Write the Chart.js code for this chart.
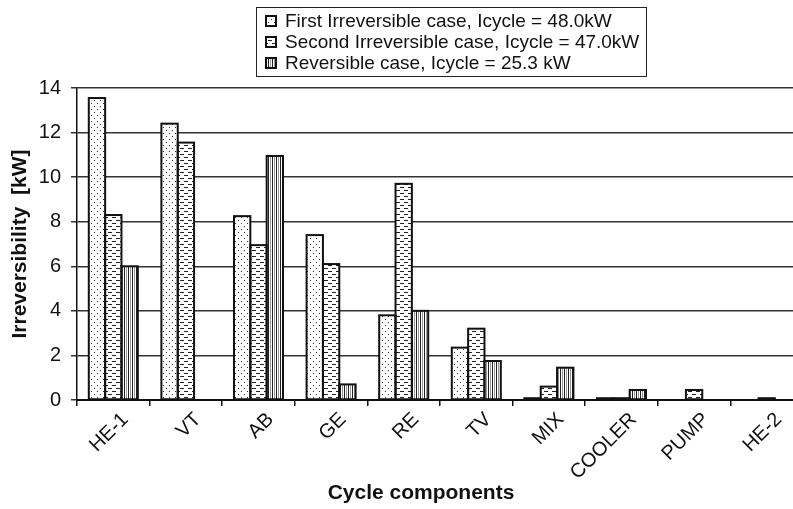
<!DOCTYPE html>
<html>
<head>
<meta charset="utf-8">
<script src="https://cdn.jsdelivr.net/npm/chart.js@4.4.1/dist/chart.umd.min.js"></script>
<style>
  html, body { margin: 0; padding: 0; background: #fff; width: 793px; height: 509px; overflow: hidden; }
  #wrap { position: absolute; left: 0; top: 0; width: 830px; height: 509px; }
</style>
</head>
<body>
<div id="wrap"><canvas id="c" width="830" height="509"></canvas></div>
<script>
// ---- data ----
const categories = ["HE-1", "VT", "AB", "GE", "RE", "TV", "MIX", "COOLER", "PUMP", "HE-2"];
const firstIrreversible  = [13.55, 12.4, 8.25, 7.4, 3.8, 2.35, 0.08, 0.08, 0, 0];
const secondIrreversible = [8.3, 11.55, 6.95, 6.1, 9.7, 3.2, 0.6, 0.08, 0.45, 0.08];
const reversibleCase     = [6.0, 0, 10.95, 0.7, 4.0, 1.75, 1.45, 0.45, 0, 0];
const seriesLabels = [
  "First Irreversible case, Icycle = 48.0kW",
  "Second Irreversible case, Icycle = 47.0kW",
  "Reversible case, Icycle = 25.3 kW"
];
const yTicks = [0, 2, 4, 6, 8, 10, 12, 14];
const yTitle = "Irreversibility  [kW]";
const xTitle = "Cycle components";

// ---- patterns ----
function makePattern(w, h, draw) {
  const c = document.createElement('canvas');
  c.width = w; c.height = h;
  const g = c.getContext('2d');
  g.fillStyle = '#fff'; g.fillRect(0, 0, w, h);
  draw(g);
  return document.getElementById('c').getContext('2d').createPattern(c, 'repeat');
}
const patDots = makePattern(6, 6, g => {
  g.fillStyle = '#333';
  g.fillRect(1, 1, 1, 1);
  g.fillRect(4, 4, 1, 1);
});
const patDash = makePattern(8, 6, g => {
  g.fillStyle = '#222';
  g.fillRect(0, 1, 4, 1);
  g.fillRect(4, 4, 4, 1);
});
const patVert = makePattern(4, 2, g => {
  g.fillStyle = '#222';
  g.fillRect(0, 0, 1, 2);
  g.fillStyle = '#999';
  g.fillRect(2, 0, 1, 2);
});
const patterns = [patDots, patDash, patVert];

const FONT = "'Liberation Sans', Arial, Helvetica, sans-serif";

// Excel-like bar outlines: stroke centred on the bar edges
const barOutline = {
  id: 'barOutline',
  afterDatasetsDraw(chart) {
    const ctx = chart.ctx;
    ctx.save();
    ctx.strokeStyle = '#111';
    ctx.lineWidth = 2;
    chart.data.datasets.forEach((ds, di) => {
      const meta = chart.getDatasetMeta(di);
      meta.data.forEach((el, i) => {
        if (!ds.data[i]) return;
        const p = el.getProps(['x', 'y', 'base', 'width'], true);
        const l = p.x - p.width / 2;
        ctx.strokeRect(l, p.y, p.width, p.base - p.y);
      });
    });
    ctx.restore();
  }
};

const overlay = {
  id: 'overlay',
  afterDraw(chart) {
    const ctx = chart.ctx;
    ctx.save();
    // legend
    const lx = 256, ly = 7, lw = 390, lh = 69;
    ctx.fillStyle = '#fff';
    ctx.fillRect(lx, ly, lw, lh);
    ctx.strokeStyle = '#222';
    ctx.lineWidth = 1;
    ctx.strokeRect(lx + 0.5, ly + 0.5, lw, lh);
    ctx.font = "19px " + FONT;
    ctx.textBaseline = 'middle';
    ctx.textAlign = 'left';
    for (let i = 0; i < seriesLabels.length; i++) {
      const cy = ly + 14 + i * 21;
      ctx.fillStyle = patterns[i];
      ctx.fillRect(266, cy - 5, 10, 10);
      ctx.strokeStyle = '#111';
      ctx.lineWidth = 2;
      ctx.strokeRect(266, cy - 5, 10, 10);
      ctx.fillStyle = '#111';
      ctx.fillText(seriesLabels[i], 285, cy + 1);
    }
    // axis titles
    ctx.font = "bold 21px " + FONT;
    ctx.fillStyle = '#111';
    ctx.textAlign = 'center';
    ctx.fillText(xTitle, 421, 493);
    ctx.translate(20, 244);
    ctx.rotate(-Math.PI / 2);
    ctx.fillText(yTitle, 0, 0);
    ctx.restore();
  }
};

const datasets = [firstIrreversible, secondIrreversible, reversibleCase].map((d, i) => ({
  label: seriesLabels[i],
  data: d,
  backgroundColor: patterns[i],
  borderWidth: 0,
  categoryPercentage: 0.675,
  barPercentage: 1.0
}));

new Chart(document.getElementById('c'), {
  type: 'bar',
  data: { labels: categories, datasets },
  options: {
    responsive: false,
    animation: false,
    devicePixelRatio: 1,
    layout: { padding: { top: 88, left: 0, right: 27, bottom: 0 } },
    plugins: { legend: { display: false }, tooltip: { enabled: false } },
    scales: {
      x: {
        grid: { offset: true, drawOnChartArea: false, drawTicks: true, tickLength: 6, color: '#111', lineWidth: 1.5 },
        border: { display: true, color: '#111', width: 2 },
        ticks: { color: '#111', font: { family: FONT, size: 20 }, minRotation: 45, maxRotation: 45, autoSkip: false, labelOffset: 12, padding: 2 },
        afterFit(s) { s.height = 109; }
      },
      y: {
        min: 0, max: 14,
        afterBuildTicks(s) { s.ticks = yTicks.map(v => ({ value: v })); },
        grid: { color: '#333', lineWidth: 1.5, drawTicks: true, tickLength: 6 },
        border: { display: true, color: '#111', width: 1.5 },
        ticks: { color: '#111', font: { family: FONT, size: 20 }, padding: 10 },
        afterFit(s) { s.width = 77; }
      }
    }
  },
  plugins: [barOutline, overlay]
});
</script>
</body>
</html>
